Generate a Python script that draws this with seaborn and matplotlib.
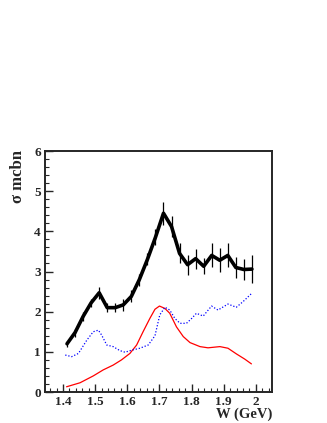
import matplotlib
matplotlib.use("Agg")
import matplotlib.pyplot as plt
import seaborn as sns
import numpy as np
import pandas as pd
from matplotlib.ticker import MultipleLocator

# data points (W in GeV, sigma in mcbn)
w_data = [1.4125, 1.4375, 1.4625, 1.4875, 1.5125, 1.5375, 1.5625, 1.5875,
          1.6125, 1.6375, 1.6625, 1.6875, 1.7125, 1.7375, 1.7625, 1.7875,
          1.8125, 1.8375, 1.8625, 1.8875, 1.9125, 1.9375, 1.9625, 1.9875]
sigma_data = [1.20, 1.48, 1.88, 2.22, 2.47, 2.10, 2.10, 2.17,
              2.38, 2.80, 3.30, 3.85, 4.45, 4.12, 3.45, 3.17,
              3.32, 3.13, 3.40, 3.28, 3.40, 3.10, 3.05, 3.06]
sigma_err = [0.08, 0.10, 0.10, 0.10, 0.15, 0.12, 0.12, 0.15,
             0.15, 0.15, 0.15, 0.20, 0.28, 0.25, 0.25, 0.25,
             0.25, 0.20, 0.30, 0.30, 0.30, 0.25, 0.25, 0.35]

# blue dotted component
w_blue = [1.407, 1.427, 1.448, 1.474, 1.494, 1.51, 1.52, 1.536, 1.556, 1.577,
          1.593, 1.613, 1.639, 1.665, 1.686, 1.701, 1.717, 1.732, 1.748, 1.764,
          1.784, 1.80, 1.815, 1.836, 1.862, 1.882, 1.913, 1.939, 1.96, 1.986]
s_blue = [0.92, 0.88, 0.96, 1.29, 1.50, 1.54, 1.42, 1.17, 1.13, 1.03,
          0.99, 1.04, 1.09, 1.17, 1.40, 1.92, 2.11, 2.04, 1.83, 1.71,
          1.71, 1.83, 1.96, 1.89, 2.14, 2.04, 2.19, 2.11, 2.25, 2.45]

# red solid component
w_red = [1.411, 1.453, 1.494, 1.525, 1.556, 1.582, 1.608, 1.629, 1.649, 1.67,
         1.686, 1.70, 1.717, 1.732, 1.753, 1.774, 1.795, 1.826, 1.851, 1.888,
         1.913, 1.939, 1.965, 1.986]
s_red = [0.13, 0.23, 0.40, 0.55, 0.67, 0.80, 0.96, 1.17, 1.50, 1.83,
         2.06, 2.14, 2.08, 1.96, 1.62, 1.38, 1.23, 1.13, 1.10, 1.13,
         1.09, 0.95, 0.82, 0.70]

sns.set_style("ticks")
plt.rcParams['font.family'] = ['Liberation Serif', 'DejaVu Serif']
plt.rcParams['font.weight'] = 'bold'

fig = plt.figure(figsize=(3.27, 4.23), dpi=100)
ax = fig.add_axes([45/327, 1-392/423, 227/327, 241/423])

df_data = pd.DataFrame({"W": w_data, "sigma": sigma_data})
df_blue = pd.DataFrame({"W": w_blue, "sigma": s_blue})
df_red = pd.DataFrame({"W": w_red, "sigma": s_red})

sns.lineplot(data=df_red, x="W", y="sigma", ax=ax, color="red", lw=0.9, sort=False)
sns.lineplot(data=df_blue, x="W", y="sigma", ax=ax, color="blue", lw=0.9,
             linestyle=(0, (1, 1.5)), sort=False)
sns.lineplot(data=df_data, x="W", y="sigma", ax=ax, color="black", lw=2.6, sort=False,
             solid_joinstyle='round', solid_capstyle='round')
ax.errorbar(w_data, sigma_data, yerr=sigma_err, fmt='none', ecolor='black',
            elinewidth=0.9, capsize=0)

ax.set_xlim(1.344, 2.05)
ax.set_ylim(0, 6)
ax.xaxis.set_minor_locator(MultipleLocator(0.02))
ax.yaxis.set_major_locator(MultipleLocator(1))
ax.yaxis.set_minor_locator(MultipleLocator(0.2))
ax.set_xticks(np.round(np.arange(1.4, 2.01, 0.1), 1))
ax.set_xticklabels(["1.4", "1.5", "1.6", "1.7", "1.8", "1.9", "2"])
ax.tick_params(which='major', direction='in', length=6, width=1, labelsize=9.5, pad=3)
ax.tick_params(which='minor', direction='in', length=3, width=0.8)
for lab in ax.get_xticklabels() + ax.get_yticklabels():
    lab.set_fontweight('bold')
for sp in ax.spines.values():
    sp.set_visible(True)
    sp.set_linewidth(1.4)
ax.set_xlabel("")
ax.set_ylabel("")

fig.text(272/327, 1-414/423, "W (GeV)", ha='right', va='center', fontsize=10.5,
         fontweight='bold')
fig.text(18/327, 1-150/423, "σ mcbn", ha='center', va='top', rotation=90,
         fontsize=12, fontweight='bold')

fig.savefig("out.png", dpi=100)
